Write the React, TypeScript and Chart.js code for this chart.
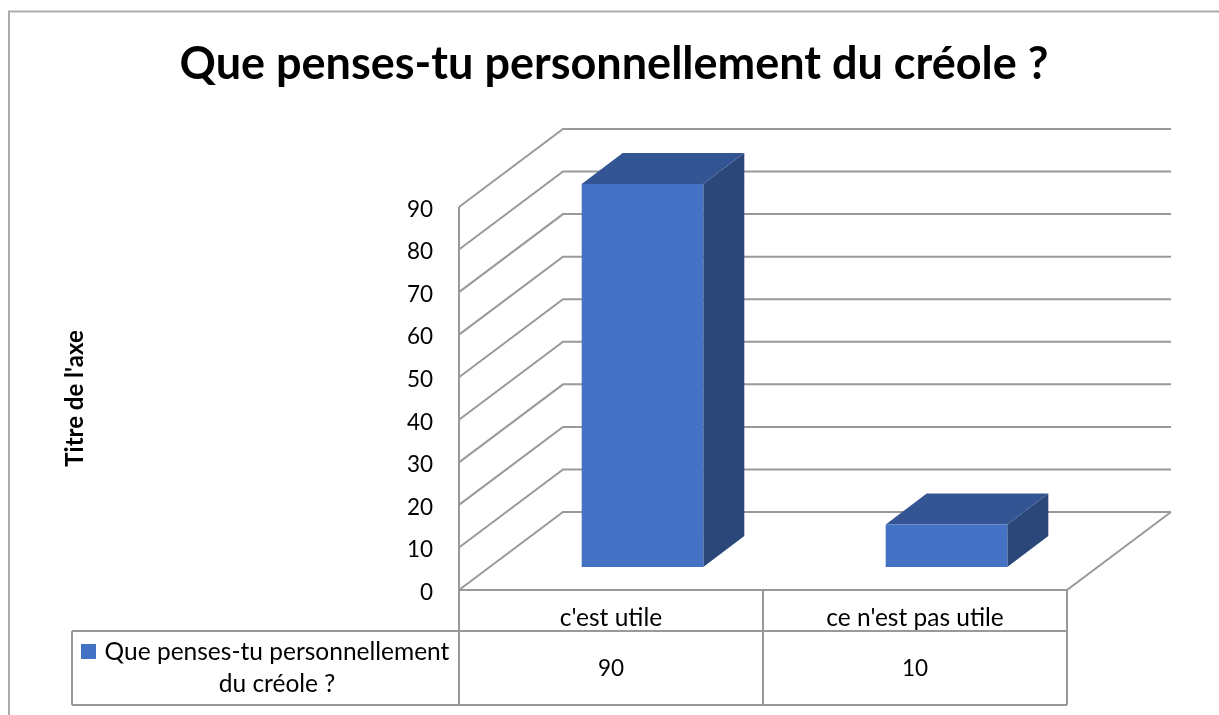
import React, { useEffect, useRef } from "react";
import { Chart, registerables } from "chart.js";

Chart.register(...registerables);

const titleText = "Que penses-tu personnellement du créole ?";
const axisTitle = "Titre de l'axe";
const categories = ["c'est utile", "ce n'est pas utile"];
const seriesName = "Que penses-tu personnellement du créole ?";
const seriesNameLines = ["Que penses-tu personnellement", "du créole ?"];
const seriesValues = [90, 10];

const FONT = "Lato, Carlito, sans-serif";
const LINE = "#999999";
const FRONT = "#4472C4";
const TOP = "#335593";
const SIDE = "#2B4779";

const WALL_DX = 104;
const WALL_DY = 78;
const BAR_DX = 31.5;
const BAR_DY = 23;
const DEPTH_DX = 41;
const DEPTH_DY = 31;

function stroke(ctx: CanvasRenderingContext2D, pts: number[][], color = LINE, w = 2) {
  ctx.beginPath();
  pts.forEach(([x, y], i) => (i ? ctx.lineTo(x, y) : ctx.moveTo(x, y)));
  ctx.strokeStyle = color;
  ctx.lineWidth = w;
  ctx.stroke();
}
function fill(ctx: CanvasRenderingContext2D, pts: number[][], color: string) {
  ctx.beginPath();
  pts.forEach(([x, y], i) => (i ? ctx.lineTo(x, y) : ctx.moveTo(x, y)));
  ctx.closePath();
  ctx.fillStyle = color;
  ctx.fill();
}

const frame3d = {
  id: "frame3d",
  afterLayout(chart: any) {
    chart.titleBlock.left = 0;
    chart.titleBlock.right = 1228;
  },
  beforeDraw(chart: any) {
    chart.scales.y.getLabelItems().forEach((item: any) => {
      if (!item.nudged) {
        item.options.translation[1] += 2.5;
        item.nudged = true;
      }
    });
  },
  beforeDatasetsDraw(chart: any) {
    const { ctx, chartArea: a, scales } = chart;
    const y = scales.y;
    ctx.save();
    // outer frame: only the top and left edges fall inside the picture
    stroke(ctx, [[9, 715], [9, 11.5], [1219, 11.5]], "#ABABAB", 2);
    // walls
    y.ticks.forEach((t: any) => {
      const py = y.getPixelForValue(t.value);
      stroke(ctx, [[a.left, py], [a.left + WALL_DX, py - WALL_DY], [a.right + WALL_DX, py - WALL_DY]]);
    });
    stroke(ctx, [[a.left, a.top], [a.left, a.bottom]]);
    stroke(ctx, [[a.right + WALL_DX, a.bottom - WALL_DY], [a.right, a.bottom], [a.left, a.bottom]]);
    // data table
    const x = scales.x;
    const mid = (x.getPixelForValue(0) + x.getPixelForValue(1)) / 2;
    const rowTop = 631;
    const rowBottom = 705;
    stroke(ctx, [[72, rowTop], [a.right, rowTop]]);
    stroke(ctx, [[72, rowBottom], [a.right, rowBottom]]);
    stroke(ctx, [[72, rowTop], [72, rowBottom]]);
    [a.left, mid, a.right].forEach((vx: number) => stroke(ctx, [[vx, a.bottom], [vx, rowBottom]]));
    ctx.fillStyle = "#000000";
    ctx.textAlign = "center";
    ctx.textBaseline = "alphabetic";
    ctx.font = `22.5px ${FONT}`;
    seriesValues.forEach((v, i) => ctx.fillText(String(v), x.getPixelForValue(i), 676));
    ctx.font = `24.5px ${FONT}`;
    ctx.fillText(seriesNameLines[0], 277, 660);
    ctx.fillText(seriesNameLines[1], 277, 692);
    ctx.fillStyle = FRONT;
    ctx.fillRect(81, 644, 15, 15);
    ctx.restore();
  },
  beforeDatasetDraw(chart: any, args: any) {
    const { ctx } = chart;
    const bars = chart.getDatasetMeta(args.index).data;
    ctx.save();
    ctx.translate(BAR_DX, -BAR_DY);
    bars.forEach((b: any) => {
      const { x, y, base, width } = b.getProps(["x", "y", "base", "width"], true);
      const l = x - width / 2;
      const r = x + width / 2;
      fill(ctx, [[r, y], [r + DEPTH_DX, y - DEPTH_DY], [r + DEPTH_DX, base - DEPTH_DY], [r, base]], SIDE);
      fill(ctx, [[l, y], [l + DEPTH_DX, y - DEPTH_DY], [r + DEPTH_DX, y - DEPTH_DY], [r, y]], TOP);
    });
  },
  afterDatasetDraw(chart: any) {
    chart.ctx.restore();
  },
};

export default function App() {
  const ref = useRef<HTMLCanvasElement>(null);
  useEffect(() => {
    const chart = new Chart(ref.current!, {
      type: "bar",
      data: {
        labels: categories,
        datasets: [
          {
            label: seriesName,
            data: seriesValues,
            backgroundColor: FRONT,
            categoryPercentage: 1,
            barPercentage: 0.4,
          },
        ],
      },
      plugins: [frame3d],
      options: {
        responsive: false,
        animation: false,
        layout: { padding: { left: 61, right: 152, top: 0, bottom: 0 } },
        plugins: {
          legend: { display: false },
          tooltip: { enabled: false },
          title: {
            display: true,
            text: titleText,
            color: "#000000",
            font: { family: FONT, size: 45, weight: "bold" },
            padding: { top: 37, bottom: 116 },
          },
        },
        scales: {
          x: {
            grid: { display: false },
            border: { display: false },
            ticks: { color: "#000000", font: { family: FONT, size: 24.5 }, padding: 5, maxRotation: 0 },
            afterFit(s: any) {
              s.height = 125;
            },
          },
          y: {
            min: 0,
            max: 90,
            grid: { display: false },
            border: { display: false },
            ticks: { stepSize: 10, color: "#000000", font: { family: FONT, size: 22.5 }, padding: 18 },
            title: {
              display: true,
              text: axisTitle,
              color: "#000000",
              font: { family: FONT, size: 24, weight: "bold" },
              padding: 0,
            },
            afterFit(s: any) {
              s.width = 398;
            },
          },
        },
      },
    });
    return () => chart.destroy();
  }, []);
  return (
    <canvas
      ref={ref}
      width={1219}
      height={715}
      style={{ position: "absolute", left: 0, top: 0, display: "block" }}
    />
  );
}
